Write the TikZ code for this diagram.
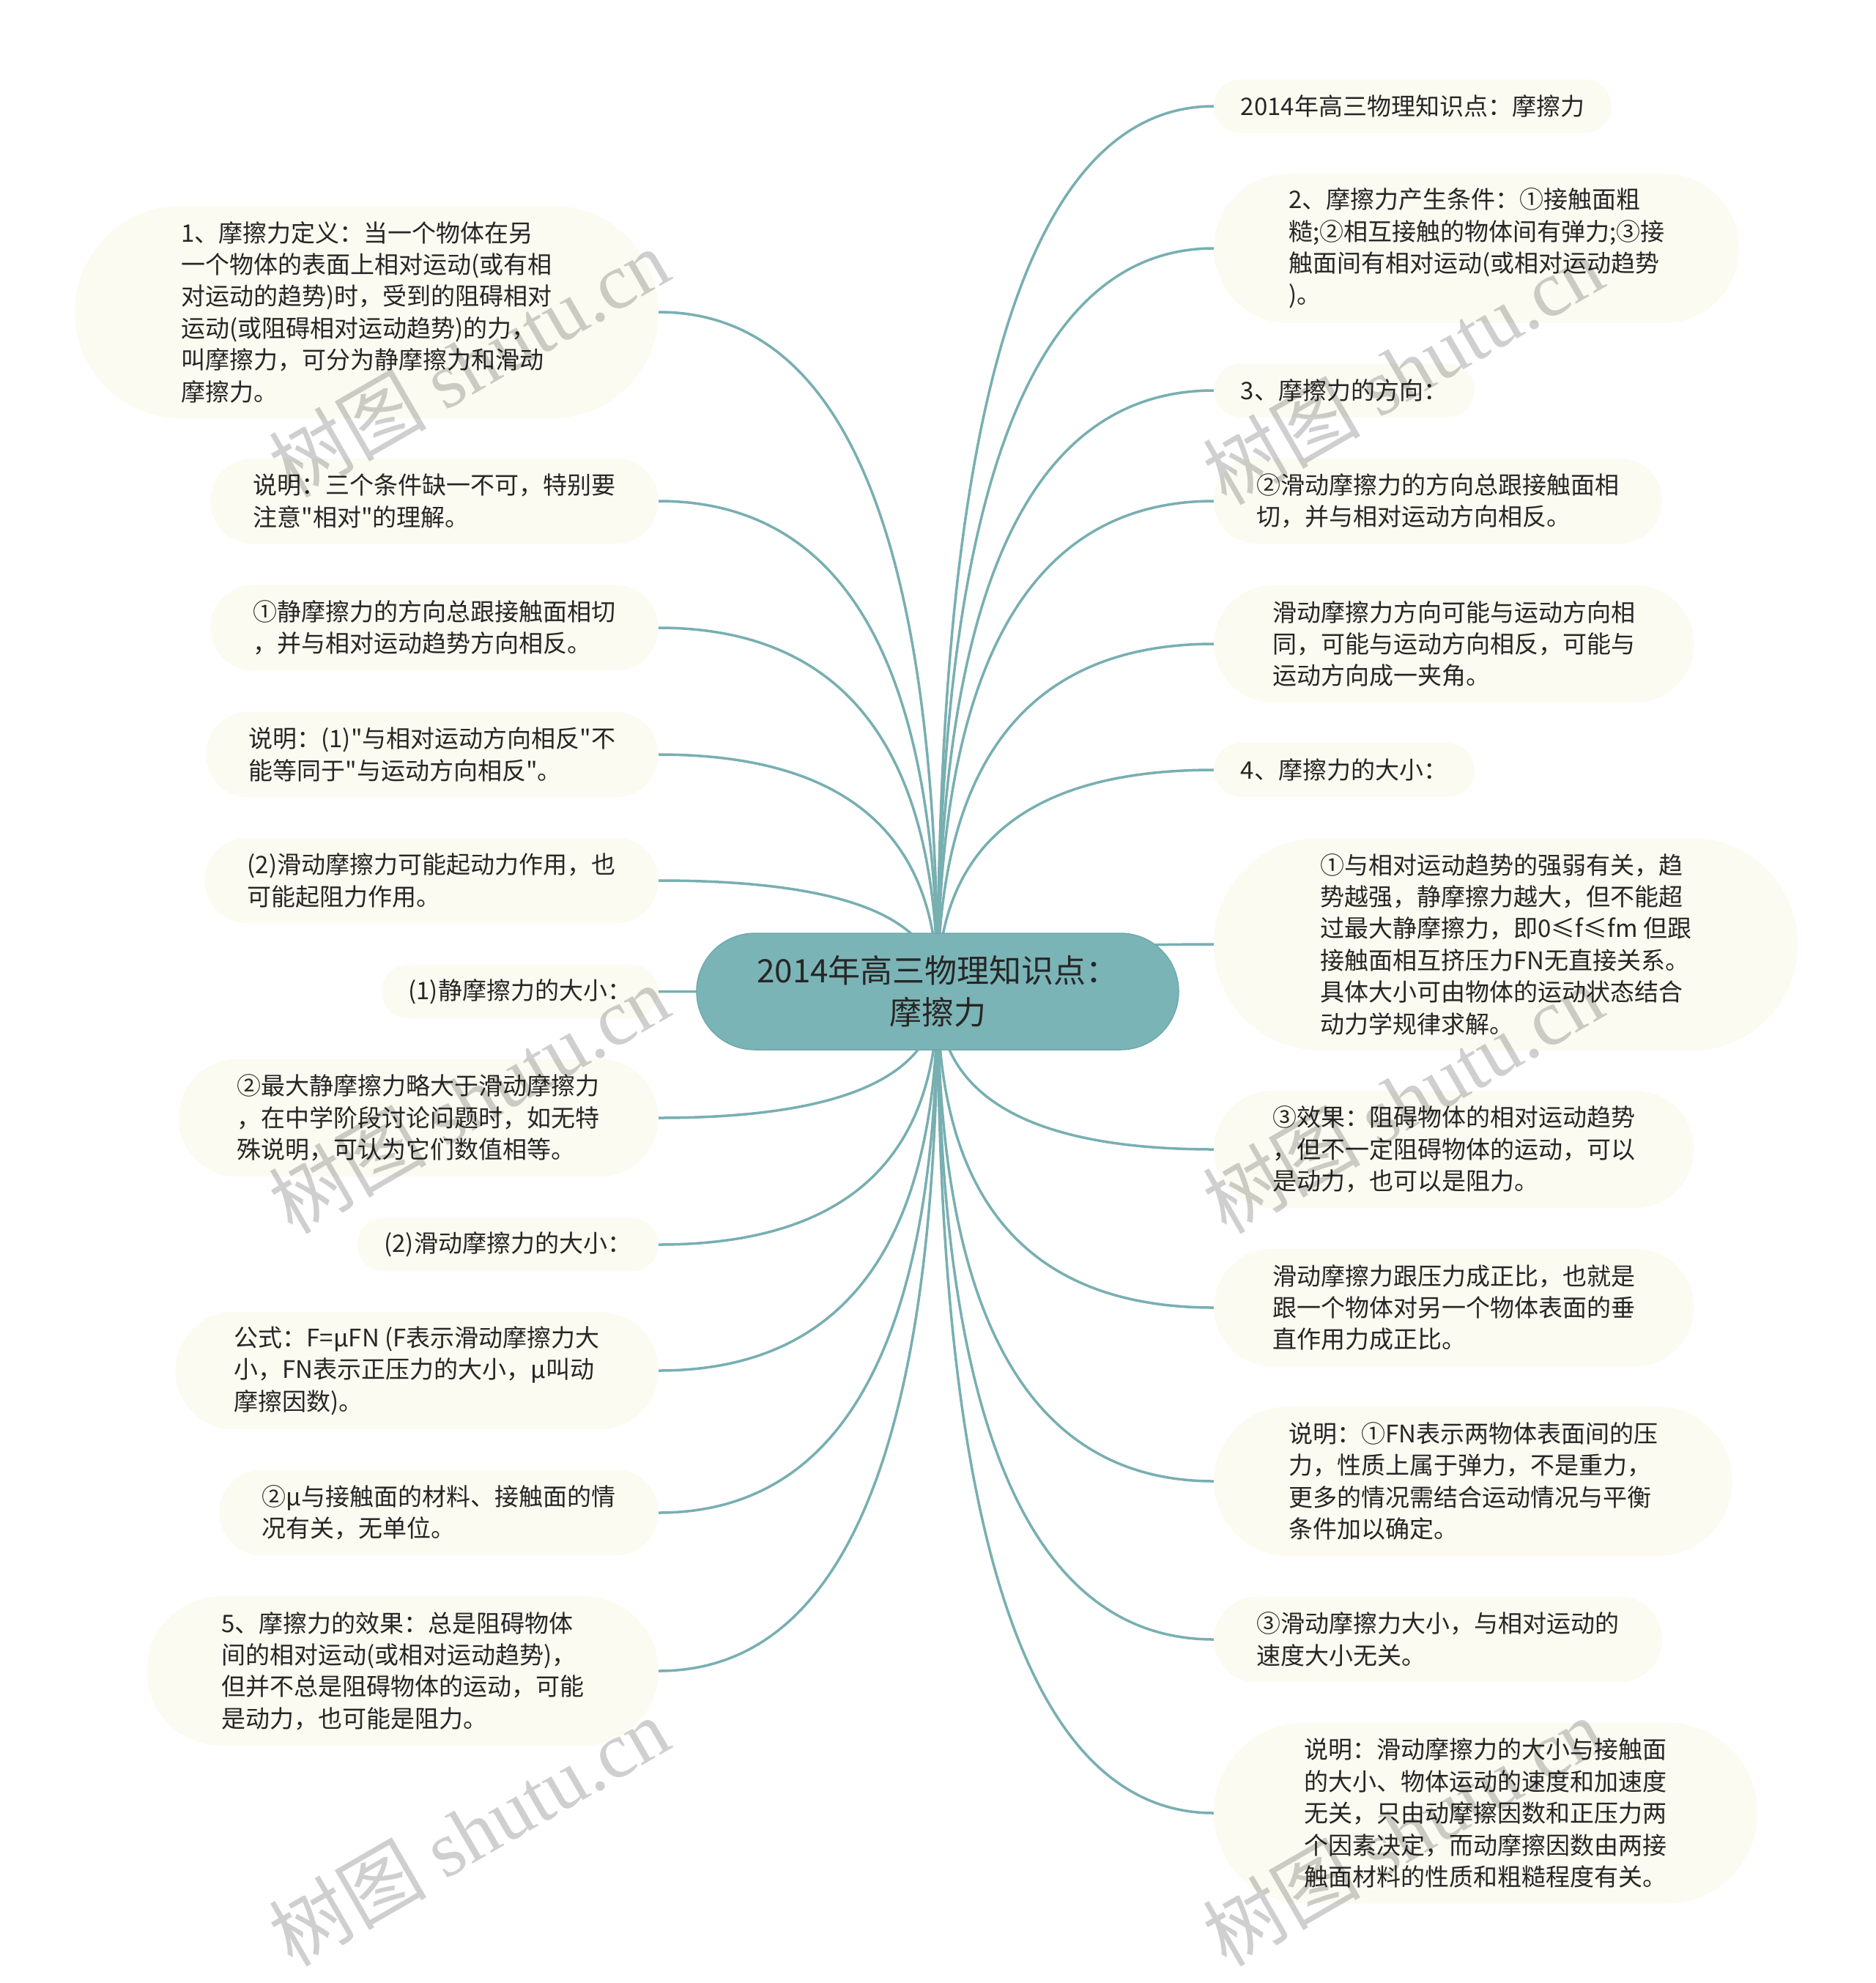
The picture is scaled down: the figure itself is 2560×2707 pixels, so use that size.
\documentclass[tikz,border=0pt]{standalone}
\usepackage{fontspec}
\setmainfont{Noto Sans CJK SC}[Ligatures=TeXOff]
\newfontfamily\wmserif{Liberation Serif}
\usetikzlibrary{calc}
\definecolor{hubfill}{HTML}{7BB4B6}
\definecolor{hubline}{HTML}{6FA9AB}
\definecolor{tealline}{HTML}{78AFB1}
\definecolor{cream}{HTML}{FCFBF1}
\definecolor{ink}{HTML}{262626}
\pgfdeclarelayer{bg}
\pgfsetlayers{bg,main}
\tikzset{
  leaf/.style={fill=cream, draw=none, text=ink, align=left, inner ysep=0pt,
    font=\fontsize{33}{43.4}\selectfont},
  lineA/.style={leaf, minimum height=73.4pt, inner xsep=36.7pt, rounded corners=36.6pt},
  lineB/.style={leaf, minimum height=116.8pt, inner xsep=58.4pt, rounded corners=58.3pt},
  lineC/.style={leaf, minimum height=160.2pt, inner xsep=80.1pt, rounded corners=80pt},
  lineD/.style={leaf, minimum height=203.6pt, inner xsep=101.8pt, rounded corners=101.7pt},
  lineE/.style={leaf, minimum height=247pt, inner xsep=123.5pt, rounded corners=123.4pt},
  lineF/.style={leaf, minimum height=290.4pt, inner xsep=145.2pt, rounded corners=145.1pt},
  hubbox/.style={fill=hubfill, draw=hubline, line width=1.5pt, text=ink, align=center,
    minimum width=658pt, minimum height=159pt, rounded corners=79.4pt, inner sep=0pt,
    font=\fontsize{44}{57}\selectfont},
  conn/.style={draw=tealline, line width=3.5pt},
  wm/.style={text=black, text opacity=0.19, rotate=30, inner sep=0pt,
    font=\fontsize{108}{116}\selectfont}
}
\newcommand\mmlink[1]{\draw[conn] (hub.center) .. controls ($(hub.center)!0.6667!(hub.center |- #1)$) and ($(#1)!0.6667!(hub.center |- #1)$) .. (#1);}
\begin{document}
\begin{tikzpicture}[x=1pt,y=-1pt]
\useasboundingbox (0,0) rectangle (2560,2707);

% central topic
\node[hubbox] (hub) at (1280,1353.5) {2014年高三物理知识点：\\摩擦力};

% left branches
\node[lineF, anchor=east] (L1) at (899,426) {1、摩擦力定义：当一个物体在另\\一个物体的表面上相对运动(或有相\\对运动的趋势)时，受到的阻碍相对\\运动(或阻碍相对运动趋势)的力，\\叫摩擦力，可分为静摩擦力和滑动\\摩擦力。};
\node[lineB, anchor=east] (L2) at (899,684) {说明：三个条件缺一不可，特别要\\注意"相对"的理解。};
\node[lineB, anchor=east] (L3) at (899,857) {①静摩擦力的方向总跟接触面相切\\，并与相对运动趋势方向相反。};
\node[lineB, anchor=east] (L4) at (899,1030) {说明：(1)"与相对运动方向相反"不\\能等同于"与运动方向相反"。};
\node[lineB, anchor=east] (L5) at (899,1202) {(2)滑动摩擦力可能起动力作用，也\\可能起阻力作用。};
\node[lineA, anchor=east] (L6) at (899,1353.5) {(1)静摩擦力的大小：};
\node[lineC, anchor=east] (L7) at (899,1526) {②最大静摩擦力略大于滑动摩擦力\\，在中学阶段讨论问题时，如无特\\殊说明，可认为它们数值相等。};
\node[lineA, anchor=east] (L8) at (899,1699) {(2)滑动摩擦力的大小：};
\node[lineC, anchor=east] (L9) at (899,1871) {公式：F=μFN (F表示滑动摩擦力大\\小，FN表示正压力的大小，μ叫动\\摩擦因数)。};
\node[lineB, anchor=east] (L10) at (899,2065) {②μ与接触面的材料、接触面的情\\况有关，无单位。};
\node[lineD, anchor=east] (L11) at (899,2281) {5、摩擦力的效果：总是阻碍物体\\间的相对运动(或相对运动趋势)，\\但并不总是阻碍物体的运动，可能\\是动力，也可能是阻力。};

% right branches
\node[lineA, anchor=west] (R1) at (1657,145) {2014年高三物理知识点：摩擦力};
\node[lineD, anchor=west] (R2) at (1657,339) {2、摩擦力产生条件：①接触面粗\\糙;②相互接触的物体间有弹力;③接\\触面间有相对运动(或相对运动趋势\\)。};
\node[lineA, anchor=west] (R3) at (1657,533) {3、摩擦力的方向：};
\node[lineB, anchor=west] (R4) at (1657,684) {②滑动摩擦力的方向总跟接触面相\\切，并与相对运动方向相反。};
\node[lineC, anchor=west] (R5) at (1657,879) {滑动摩擦力方向可能与运动方向相\\同，可能与运动方向相反，可能与\\运动方向成一夹角。};
\node[lineA, anchor=west] (R6) at (1657,1051) {4、摩擦力的大小：};
\node[lineF, anchor=west] (R7) at (1657,1289) {①与相对运动趋势的强弱有关，趋\\势越强，静摩擦力越大，但不能超\\过最大静摩擦力，即0≤f≤fm 但跟\\接触面相互挤压力FN无直接关系。\\具体大小可由物体的运动状态结合\\动力学规律求解。};
\node[lineC, anchor=west] (R8) at (1657,1569) {③效果：阻碍物体的相对运动趋势\\，但不一定阻碍物体的运动，可以\\是动力，也可以是阻力。};
\node[lineC, anchor=west] (R9) at (1657,1785) {滑动摩擦力跟压力成正比，也就是\\跟一个物体对另一个物体表面的垂\\直作用力成正比。};
\node[lineD, anchor=west] (R10) at (1657,2022) {说明：①FN表示两物体表面间的压\\力，性质上属于弹力，不是重力，\\更多的情况需结合运动情况与平衡\\条件加以确定。};
\node[lineB, anchor=west] (R11) at (1657,2238) {③滑动摩擦力大小，与相对运动的\\速度大小无关。};
\node[lineE, anchor=west] (R12) at (1657,2475) {说明：滑动摩擦力的大小与接触面\\的大小、物体运动的速度和加速度\\无关，只由动摩擦因数和正压力两\\个因素决定，而动摩擦因数由两接\\触面材料的性质和粗糙程度有关。};

% connectors
\begin{pgfonlayer}{bg}
\fill[white] (0,0) rectangle (2560,2707);
\foreach \n in {L1,L2,L3,L4,L5,L6,L7,L8,L9,L10,L11} {\mmlink{\n.east}}
\foreach \n in {R1,R2,R3,R4,R5,R6,R7,R8,R9,R10,R11,R12} {\mmlink{\n.west}}
\end{pgfonlayer}

% watermarks
\node[wm] (wm1) at (640,495) {树图 {\wmserif shutu.cn}};
\node[wm] (wm2) at (1915,505) {树图 {\wmserif shutu.cn}};
\node[wm] (wm3) at (640,1500) {树图 {\wmserif shutu.cn}};
\node[wm] (wm4) at (1915,1500) {树图 {\wmserif shutu.cn}};
\node[wm] (wm5) at (640,2500) {树图 {\wmserif shutu.cn}};
\node[wm] (wm6) at (1915,2500) {树图 {\wmserif shutu.cn}};
\end{tikzpicture}
\end{document}
